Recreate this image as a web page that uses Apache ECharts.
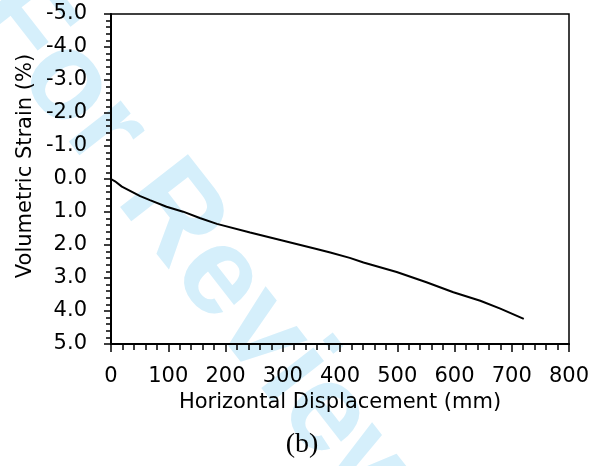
<!DOCTYPE html>
<html>
<head>
<meta charset="utf-8">
<script src="https://cdn.jsdelivr.net/npm/echarts@6/dist/echarts.min.js"></script>
<style>
  html, body { margin: 0; padding: 0; background: #fff; }
  #chart { width: 597px; height: 466px; }
</style>
</head>
<body>
<div id="chart"></div>
<script>
// Horizontal displacement (mm) and the matching volumetric strain (%)
const displacement = [0, 7, 19, 51, 68, 97, 126, 155, 185, 243, 301, 359, 383, 417, 441, 499, 551, 598, 645, 680, 721];
const volStrain    = [0, 0.07, 0.23, 0.52, 0.64, 0.84, 0.99, 1.18, 1.36, 1.62, 1.87, 2.12, 2.23, 2.39, 2.53, 2.82, 3.13, 3.43, 3.69, 3.93, 4.24];

const xTitle = 'Horizontal Displacement (mm)';
const yTitle = 'Volumetric Strain (%)';
const panelTag = '(b)';
const stamp = 'For Review';

const labelFont = 'DejaVu Sans';
const labelSize = 21;
const chart = echarts.init(document.getElementById('chart'), null, { renderer: 'canvas' });

const points = displacement.map((d, i) => [d, volStrain[i]]);

chart.setOption({
  animation: false,
  backgroundColor: '#ffffff',
  grid: {
    left: 111, right: 28, top: 14, bottom: 122,
    show: true, borderColor: '#000', borderWidth: 1.5, backgroundColor: 'transparent'
  },
  graphic: [
    {
      type: 'text', z: -10, x: 202, y: 256,
      rotation: -52 * Math.PI / 180,
      style: {
        text: stamp, fill: '#d5effb',
        font: 'bold 125px "Liberation Sans"',
        align: 'center', verticalAlign: 'middle'
      }
    },
    {
      type: 'text', z: 10, x: 26, y: 166,
      rotation: Math.PI / 2,
      style: {
        text: yTitle, fill: '#000',
        font: labelSize + 'px "' + labelFont + '"',
        align: 'center', verticalAlign: 'middle'
      }
    },
    {
      type: 'text', z: 10, x: 302, y: 445,
      style: {
        text: panelTag, fill: '#000',
        font: '28px "Liberation Serif"',
        align: 'center', verticalAlign: 'middle'
      }
    }
  ],
  xAxis: {
    type: 'value', min: 0, max: 800, interval: 100,
    name: xTitle, nameLocation: 'middle', nameGap: 48,
    nameTextStyle: { color: '#000', fontSize: labelSize, fontFamily: labelFont },
    axisLine: { show: true, onZero: false, lineStyle: { color: '#000', width: 2 } },
    axisTick: { show: true, inside: false, length: 8, lineStyle: { color: '#000', width: 1.5 } },
    minorTick: { show: true, splitNumber: 5, length: 6, lineStyle: { color: '#000', width: 1.5 } },
    splitLine: { show: false },
    axisLabel: { color: '#000', fontSize: labelSize, fontFamily: labelFont, margin: 22 }
  },
  yAxis: {
    type: 'value', min: -5, max: 5, interval: 1, inverse: true,
    axisLine: { show: true, onZero: false, lineStyle: { color: '#000', width: 2 } },
    axisTick: { show: true, inside: false, length: 7, lineStyle: { color: '#000', width: 1.5 } },
    minorTick: { show: true, splitNumber: 5, length: 5, lineStyle: { color: '#000', width: 1.5 } },
    splitLine: { show: false },
    axisLabel: {
      color: '#000', fontSize: labelSize, fontFamily: labelFont, margin: 24,
      formatter: v => v.toFixed(1)
    }
  },
  series: [{
    type: 'line', data: points, showSymbol: false, smooth: false,
    lineStyle: { color: '#000', width: 2 }, z: 5
  }]
});
</script>
</body>
</html>
